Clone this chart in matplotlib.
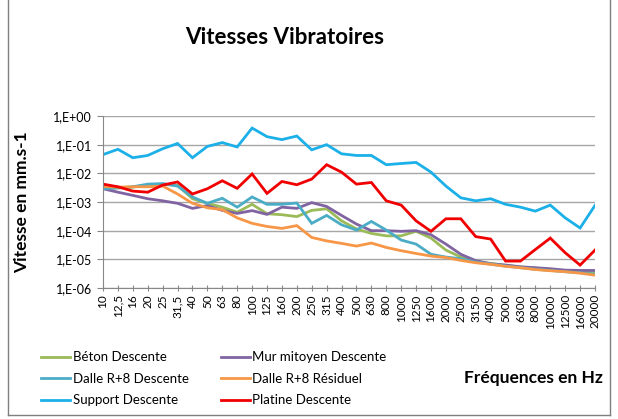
import matplotlib.pyplot as plt
from matplotlib.lines import Line2D
from matplotlib.ticker import FixedLocator, NullLocator

plt.rcParams['font.family'] = ['Lato', 'DejaVu Sans']

frequences = ["10", "12,5", "16", "20", "25", "31,5", "40", "50", "63", "80",
              "100", "125", "160", "200", "250", "315", "400", "500", "630", "800",
              "1000", "1250", "1600", "2000", "2500", "3150", "4000", "5000", "6300", "8000",
              "10000", "12500", "16000", "20000"]

beton_descente = [3.0e-3, 3.1e-3, 3.3e-3, 3.9e-3, 4.1e-3, 3.8e-3, 1.3e-3, 9.0e-4, 6.6e-4, 4.4e-4,
                  8.3e-4, 3.9e-4, 3.6e-4, 3.1e-4, 5.1e-4, 5.8e-4, 2.2e-4, 1.15e-4, 8.0e-5, 6.6e-5,
                  6.6e-5, 9.5e-5, 5.5e-5, 2.1e-5, 1.2e-5, 8.5e-6, 7.2e-6, 6.2e-6, 5.4e-6, 4.9e-6,
                  4.5e-6, 4.0e-6, 3.8e-6, 3.6e-6]
mur_mitoyen_descente = [2.9e-3, 2.2e-3, 1.7e-3, 1.3e-3, 1.1e-3, 9.0e-4, 6.0e-4, 7.5e-4, 5.1e-4, 4.0e-4,
                        5.0e-4, 3.7e-4, 6.6e-4, 6.0e-4, 9.5e-4, 7.0e-4, 3.4e-4, 1.7e-4, 1.0e-4, 1.0e-4,
                        9.5e-5, 1.0e-4, 7.2e-5, 3.4e-5, 1.5e-5, 9.0e-6, 7.0e-6, 6.3e-6, 5.5e-6, 5.1e-6,
                        4.7e-6, 4.2e-6, 4.1e-6, 4.1e-6]
dalle_descente = [2.9e-3, 3.1e-3, 3.4e-3, 4.2e-3, 4.4e-3, 3.6e-3, 1.5e-3, 9.0e-4, 1.35e-3, 6.6e-4,
                  1.5e-3, 8.3e-4, 8.3e-4, 9.2e-4, 1.8e-4, 3.4e-4, 1.6e-4, 1.05e-4, 2.1e-4, 1.05e-4,
                  4.7e-5, 3.4e-5, 1.5e-5, 1.2e-5, 1.05e-5, 8.0e-6, 6.8e-6, 5.8e-6, 5.1e-6, 4.5e-6,
                  4.1e-6, 3.7e-6, 3.4e-6, 3.0e-6]
dalle_residuel = [3.5e-3, 3.3e-3, 3.4e-3, 3.4e-3, 3.6e-3, 1.9e-3, 9.0e-4, 6.3e-4, 5.4e-4, 2.8e-4,
                  1.8e-4, 1.4e-4, 1.2e-4, 1.5e-4, 5.8e-5, 4.4e-5, 3.6e-5, 2.9e-5, 3.7e-5, 2.6e-5,
                  2.0e-5, 1.6e-5, 1.3e-5, 1.15e-5, 9.2e-6, 7.6e-6, 6.7e-6, 5.7e-6, 5.1e-6, 4.4e-6,
                  4.0e-6, 3.7e-6, 3.3e-6, 2.8e-6]
support_descente = [0.045, 0.069, 0.035, 0.042, 0.072, 0.11, 0.035, 0.087, 0.118, 0.083,
                    0.38, 0.19, 0.15, 0.2, 0.066, 0.1, 0.048, 0.042, 0.042, 0.02,
                    0.022, 0.024, 0.011, 3.6e-3, 1.4e-3, 1.1e-3, 1.3e-3, 8.3e-4, 6.6e-4, 4.8e-4,
                    7.8e-4, 2.8e-4, 1.24e-4, 7.6e-4]
platine_descente = [4.2e-3, 3.4e-3, 2.4e-3, 2.2e-3, 3.9e-3, 5.0e-3, 1.9e-3, 2.9e-3, 5.5e-3, 3.0e-3,
                    9.5e-3, 2.0e-3, 5.2e-3, 4.0e-3, 6.3e-3, 0.02, 0.011, 4.2e-3, 4.8e-3, 1.1e-3,
                    7.8e-4, 2.2e-4, 9.5e-5, 2.6e-4, 2.6e-4, 6.2e-5, 5.1e-5, 8.7e-6, 8.7e-6, 2.2e-5,
                    5.5e-5, 1.7e-5, 6.3e-6, 2.1e-5]

series = [
    ("Béton Descente", beton_descente, "#9BBB59"),
    ("Dalle R+8 Descente", dalle_descente, "#4BACC6"),
    ("Support Descente", support_descente, "#1CB0E8"),
    ("Mur mitoyen Descente", mur_mitoyen_descente, "#8064A2"),
    ("Dalle R+8 Résiduel", dalle_residuel, "#F79646"),
    ("Platine Descente", platine_descente, "#F00000"),
]
draw_order = [0, 3, 1, 4, 2, 5]

fig = plt.figure(figsize=(6.18, 4.19), dpi=100)
ax = fig.add_axes([103 / 618, 1 - 288 / 419, 492 / 618, 172 / 419])

x = list(range(len(frequences)))
handles = {}
for idx in draw_order:
    label, values, color = series[idx]
    line, = ax.plot(x, values, color=color, lw=2.0, label=label, solid_joinstyle="miter")
    handles[idx] = line

ax.set_yscale("log")
ax.set_ylim(1e-6, 1e0)
ax.set_xlim(0, len(frequences) - 1)
ax.yaxis.set_major_locator(FixedLocator([10.0 ** k for k in range(-6, 1)]))
ax.yaxis.set_minor_locator(NullLocator())
ax.set_yticklabels(["1,E-06", "1,E-05", "1,E-04", "1,E-03", "1,E-02", "1,E-01", "1,E+00"], fontsize=9)
ax.set_xticks(x)
ax.set_xticklabels(frequences, rotation=90, fontsize=8.5)
ax.tick_params(axis="x", direction="inout", length=5, color="#888888", pad=2)
ax.tick_params(axis="y", direction="out", length=4, color="#888888", pad=4)
ax.grid(axis="y", color="#A6A6A6", lw=1.0)
ax.set_axisbelow(True)
for side in ["top", "right"]:
    ax.spines[side].set_visible(False)
for side in ["left", "bottom"]:
    ax.spines[side].set_color("#888888")

fig.text(285 / 618, 1 - 37 / 419, "Vitesses Vibratoires", fontsize=16, fontweight="bold",
         ha="center", va="center")
fig.text(22 / 618, 1 - 202 / 419, "Vitesse en mm.s-1", fontsize=12.5, fontweight="bold",
         rotation=90, ha="center", va="center")
fig.text(533 / 618, 1 - 378 / 419, "Fréquences en Hz", fontsize=12.5, fontweight="bold",
         ha="center", va="center")

fig.legend([handles[i] for i in range(6)], [s[0] for s in series], ncol=2,
           loc="upper left", bbox_to_anchor=(36 / 618, 1 - 346 / 419), frameon=False,
           fontsize=9.5, handlelength=2.2, handletextpad=0.2, columnspacing=2.4,
           labelspacing=0.72, borderaxespad=0)

# chart frame
for xs, ys in [([8, 8], [0, 415]), ([610, 610], [0, 415]), ([8, 610], [415, 415])]:
    fig.add_artist(Line2D([v / 618 for v in xs], [1 - v / 419 for v in ys],
                          color="#7F7F7F", lw=1.0))

fig.savefig("out.png", dpi=100)
